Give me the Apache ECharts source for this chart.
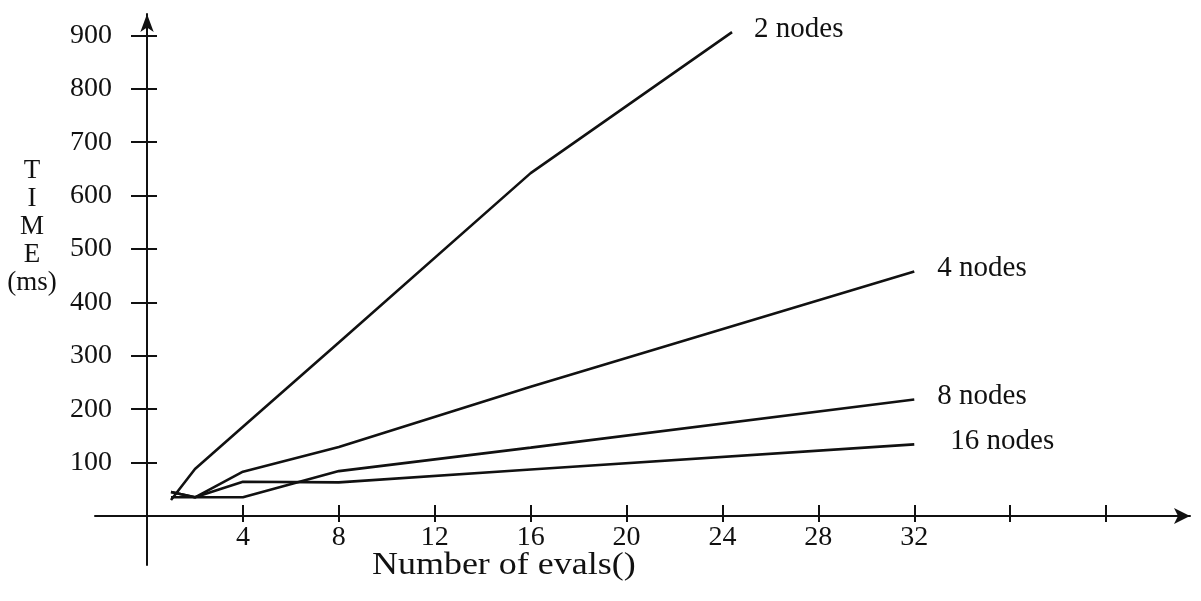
<!DOCTYPE html>
<html>
<head>
<meta charset="utf-8">
<title>Time vs number of evals()</title>
<script src="https://cdn.jsdelivr.net/npm/echarts@6/dist/echarts.min.js"></script>
<style>
  html, body { margin: 0; padding: 0; background: #fff; }
  #chart { width: 1201px; height: 601px; }
</style>
</head>
<body>
<div id="chart"></div>
<script>
// Number of evals() on the x axis, time in ms on the y axis
const evals = [1, 2, 4, 8, 16, 32];
const evals2 = [1, 2, 4, 8, 16, 24.4];   // 2-node run stops near the top of the scale
const time2 = [30, 88, 167, 325, 642, 906];
const time4 = [45, 35, 83, 129, 242, 458];
const time8 = [35, 35, 35, 84, 128, 218];
const time16 = [45, 35, 64, 63, 87, 134];

const seriesNames = ['2 nodes', '4 nodes', '8 nodes', '16 nodes'];
const xTickLabels = [4, 8, 12, 16, 20, 24, 28, 32];
const xTickMarks = [4, 8, 12, 16, 20, 24, 28, 32, 36, 40];
const yTickLabels = [100, 200, 300, 400, 500, 600, 700, 800, 900];

const FONT = '"Liberation Serif", "Times New Roman", serif';
const INK = '#111';

const pairs = (xs, ys) => xs.map((x, i) => [x, ys[i]]);

const X_MIN = -2.17, X_MAX = 43.5;
const Y_MIN = -91.8, Y_MAX = 940;

function lineSeries(name, data, gap) {
  return {
    name: name,
    type: 'line',
    xAxisIndex: 0,
    yAxisIndex: 0,
    data: data,
    symbol: 'none',
    lineStyle: { color: INK, width: 2.6 },
    endLabel: {
      show: true,
      formatter: '{a}',
      distance: gap,
      offset: [0, -3],
      color: INK,
      fontFamily: FONT,
      fontSize: 29
    },
    silent: true
  };
}

const chart = echarts.init(document.getElementById('chart'), null, { renderer: 'canvas' });

chart.setOption({
  animation: false,
  backgroundColor: '#fff',
  grid: { left: 95, right: 11, top: 14, bottom: 36, containLabel: false },
  xAxis: [
    {
      type: 'value', min: X_MIN, max: X_MAX, position: 'bottom',
      axisLine: {
        show: true, onZero: true, onZeroAxisIndex: 0,
        symbol: ['none', 'arrow'], symbolSize: [12, 16],
        lineStyle: { color: INK, width: 2 }
      },
      axisTick: { show: true, customValues: xTickMarks, length: 6, lineStyle: { color: INK, width: 2 } },
      // tick labels sit just under the zero line, which lies above the grid's bottom edge
      axisLabel: { show: true, customValues: xTickLabels, margin: -41, color: INK, fontFamily: FONT, fontSize: 28 },
      splitLine: { show: false }
    },
    {
      type: 'value', min: X_MIN, max: X_MAX, position: 'bottom',
      axisLine: { show: false, onZero: true, onZeroAxisIndex: 0 },
      axisTick: { show: true, inside: true, customValues: xTickMarks, length: 11, lineStyle: { color: INK, width: 2 } },
      axisLabel: { show: false },
      splitLine: { show: false }
    }
  ],
  yAxis: [
    {
      type: 'value', min: Y_MIN, max: Y_MAX, position: 'left',
      axisLine: {
        show: true, onZero: true, onZeroAxisIndex: 0,
        symbol: ['none', 'arrow'], symbolSize: [10, 18],
        lineStyle: { color: INK, width: 2 }
      },
      axisTick: { show: true, customValues: yTickLabels, length: 16, lineStyle: { color: INK, width: 2 } },
      axisLabel: { show: true, customValues: yTickLabels, margin: -17, color: INK, fontFamily: FONT, fontSize: 28 },
      splitLine: { show: false }
    },
    {
      type: 'value', min: Y_MIN, max: Y_MAX, position: 'left',
      axisLine: { show: false, onZero: true, onZeroAxisIndex: 0 },
      axisTick: { show: true, inside: true, customValues: yTickLabels, length: 10, lineStyle: { color: INK, width: 2 } },
      axisLabel: { show: false },
      splitLine: { show: false }
    }
  ],
  graphic: [
    {
      type: 'text', left: 372, top: 550, scaleX: 1.16,
      style: { text: 'Number of evals()', fill: INK, font: '31px ' + FONT }
    },
    {
      type: 'text', x: 32, y: 157,
      style: {
        text: 'T\nI\nM\nE\n(ms)', fill: INK, font: '27px ' + FONT,
        align: 'center', verticalAlign: 'top', lineHeight: 28
      }
    }
  ],
  series: [
    lineSeries(seriesNames[0], pairs(evals2, time2), 22),
    lineSeries(seriesNames[1], pairs(evals, time4), 23),
    lineSeries(seriesNames[2], pairs(evals, time8), 23),
    lineSeries(seriesNames[3], pairs(evals, time16), 36)
  ]
});
</script>
</body>
</html>
